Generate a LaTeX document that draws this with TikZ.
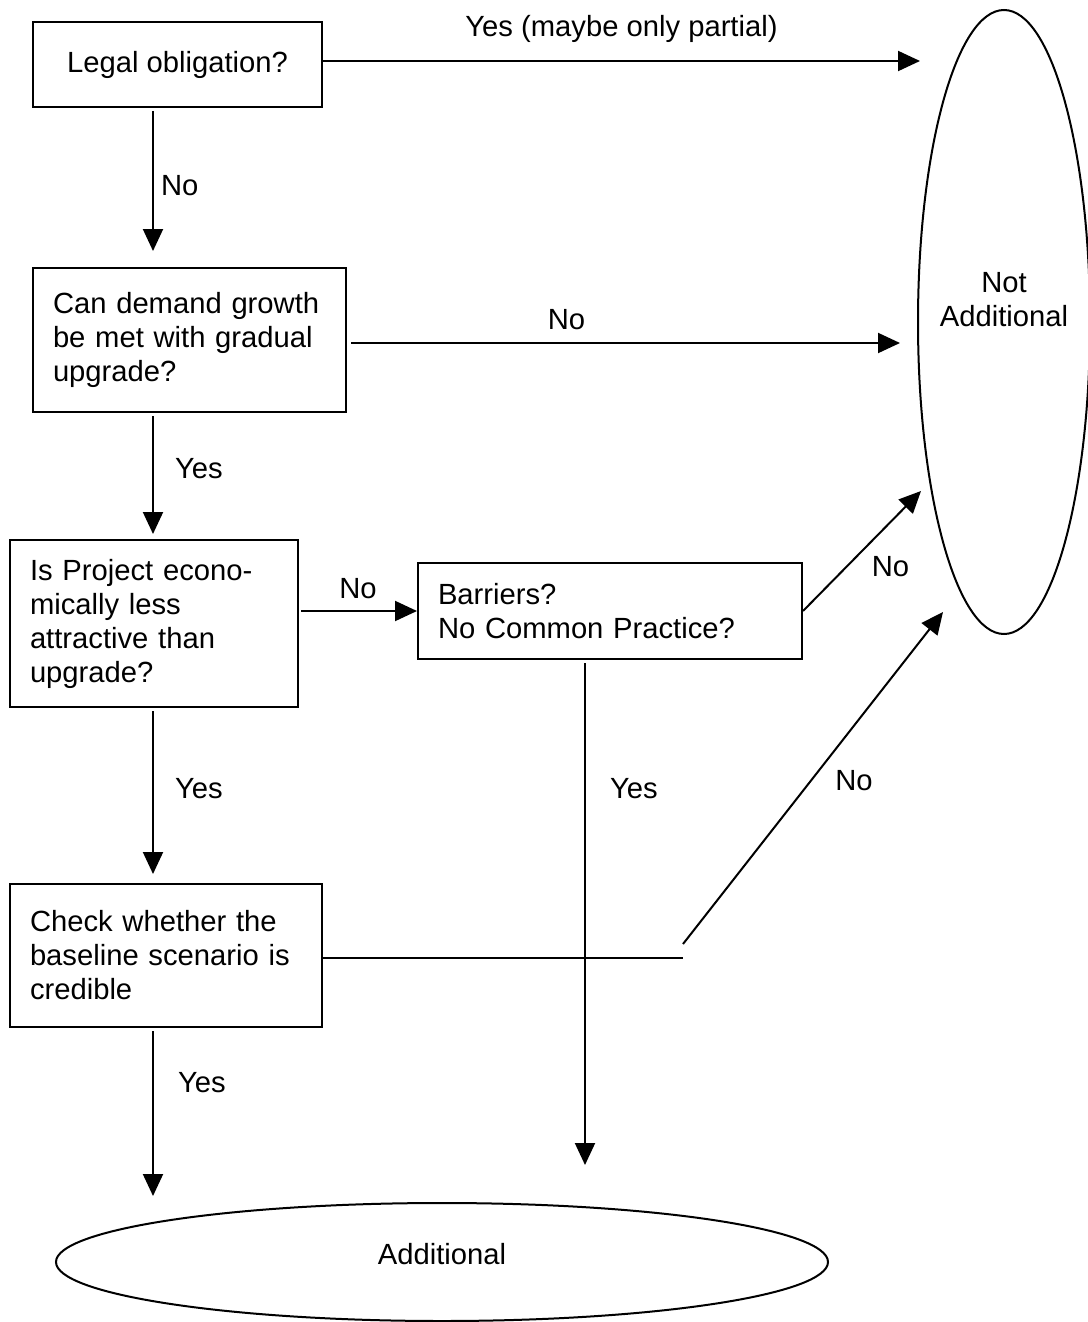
\documentclass[tikz,border=0pt]{standalone}
\usepackage{fontspec}
\setmainfont{Liberation Sans}
\usetikzlibrary{arrows.meta,shapes.geometric}

\begin{document}
\begin{tikzpicture}[x=0.5pt,y=-0.5pt,>={Triangle[length=11pt,width=10pt]},
		every node/.style={font=\fontsize{14.6}{17}\selectfont},
		box/.style={draw,line width=1pt,inner xsep=10pt,inner ysep=0pt,align=left},
		oval/.style={draw,ellipse,line width=1pt,inner sep=0pt},
		lbl/.style={inner sep=2pt},
		arr/.style={->,line width=1pt}]
	\useasboundingbox (0,0) rectangle (1087,1322);

	\node[box,align=center,minimum width=144.5pt,minimum height=42.5pt] (legal) at (177.5,64.5) {Legal obligation?};
	\node[box,text width=136.5pt,minimum height=72pt] (growth) at (189.5,340) {Can demand growth\\be met with gradual\\upgrade?};
	\node[box,text width=124pt,minimum height=83.5pt] (econ) at (154,623.5) {Is Project econo-\\mically less\\attractive than\\upgrade?};
	\node[box,text width=172pt,minimum height=48pt] (barr) at (610,611) {Barriers?\\No Common Practice?};
	\node[box,text width=136pt,minimum height=71.5pt] (cred) at (166,955.5) {Check whether the\\baseline scenario is\\credible};
	\node[oval,minimum width=86pt,minimum height=312pt,
		label={[align=center,yshift=11pt]center:Not\\Additional}] (notadd) at (1004,322) {};
	\node[oval,minimum width=386pt,minimum height=59pt,
		label={[yshift=4pt]center:Additional}] (add) at (442,1262) {};

	\coordinate (col) at (153,0);
	\coordinate (col2) at (585,0);
	\coordinate (na1) at (920,61);
	\coordinate (na2) at (900,343);
	\coordinate (na3) at (921,491);
	\coordinate (na4) at (943,612);
	\coordinate (tipa) at (585,1165);
	\coordinate (bend) at (683,958);
	\coordinate (bend2) at (683,944);

	\foreach \a/\b/\t/\p/\d/\g [count=\i] in {legal/growth/No/0.49/1.5pt/8pt,
			growth/econ/Yes/0.4375/8.5pt/2.5pt,
			econ/cred/Yes/0.458/8.5pt/4.5pt,
			cred/add/Yes/0.3125/10pt/3pt}{
		\draw[arr,shorten <=1.5pt,shorten >=\g] (col |- \a.south) -- (col |- \b.north) node[lbl,pos=\p,right=\d] (v\i) {\t};
	}

	\draw[arr] (legal.east |- na1) -- (na1) node[lbl,midway,above=6.75pt] (l1) {Yes (maybe only partial)};
	\draw[arr,shorten <=2pt] (growth.east |- na2) -- (na2) node[lbl,pos=0.397,above=4.25pt] (l3) {No};
	\draw[arr,shorten <=1pt] (econ.east |- barr.west) -- (barr.west) node[lbl,midway,above=3.75pt] (l5) {No};
	\draw[arr] (barr.east) -- (na3) node[lbl,midway,xshift=14.25pt,yshift=-8pt] (l6) {No};
	\draw[arr,shorten <=1.5pt] (col2 |- barr.south) -- (tipa) node[lbl,pos=0.255,right=10pt] (l7) {Yes};
	\draw[line width=1pt] (cred.east |- bend) -- (bend);
	\draw[arr] (bend2) -- (na4) node[lbl,midway,xshift=20.5pt,yshift=-1.5pt] (l9) {No};
\end{tikzpicture}
\end{document}
